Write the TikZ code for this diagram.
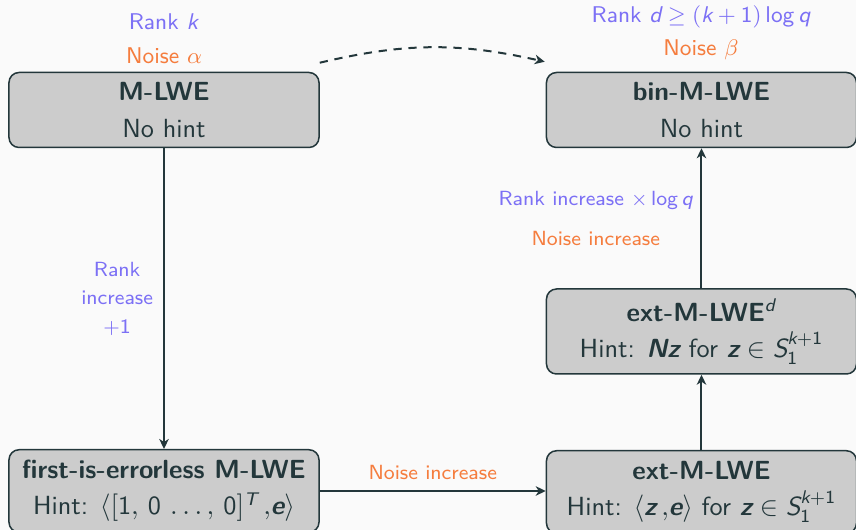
\documentclass[tikz,border=0pt]{standalone}
\usepackage{amsmath}
\usetikzlibrary{arrows.meta,calc}
\renewcommand{\familydefault}{\sfdefault}
\definecolor{bgc}{HTML}{FAFAFA}
\definecolor{dteal}{HTML}{23373B}
\definecolor{rankc}{RGB}{124,112,245}
\definecolor{noisec}{RGB}{245,125,62}
\definecolor{boxc}{HTML}{CCCCCC}
\newcommand{\sv}[1]{\textsf{\itshape #1}}
\newcommand{\sbv}[1]{\textsf{\bfseries\itshape #1}}
\newcommand{\sn}[1]{\textsf{#1}}
\tikzset{
  probbox/.style={draw=dteal, fill=boxc, line width=0.6pt, rounded corners=4pt,
    minimum width=124pt, align=center, text=dteal, inner sep=0pt,
    font=\fontsize{10.5}{14.5}\selectfont},
  lbl/.style={font=\fontsize{8.2}{11.4}\selectfont, inner sep=0pt, align=center},
  toplbl/.style={font=\fontsize{9.1}{11}\selectfont, inner sep=0pt, align=center},
  conn/.style={draw=dteal, line width=0.8pt, -{Stealth[length=4pt,width=3.8pt,inset=1.2pt]}},
}
\begin{document}
\begin{tikzpicture}[x=0.4pt,y=-0.4pt]
\fill[bgc] (0,0) rectangle (856,530);
\useasboundingbox (0,0) rectangle (856,530);
\node[probbox, minimum height=30pt] (mlwe) at (164,110) {\textbf{M-LWE}\\No hint};
\node[probbox, minimum height=30pt] (bin) at (701.5,110) {\textbf{bin-M-LWE}\\No hint};
\node[probbox, minimum height=34pt] (extd) at (701.5,331.5) {\textbf{ext-M-LWE}$^{\sv{d}}$\\Hint: $\sbv{Nz}$ for $\sbv{z}\in \sv{S}_{\sn{1}}^{\sv{k}+\sn{1}}$};
\node[probbox, minimum height=33pt] (ext) at (701.5,492) {\textbf{ext-M-LWE}\\Hint: $\langle\sbv{z}\,,\!\sbv{e}\rangle$ for $\sbv{z}\in \sv{S}_{\sn{1}}^{\sv{k}+\sn{1}}$};
\node[probbox, minimum height=33pt] (first) at (164,491) {\textbf{first-is-errorless M-LWE}\\Hint: $\langle[\sn{1},\,\sn{0}\,\ldots,\,\sn{0}]^{\sv{T}}\,,\!\sbv{e}\rangle$};
% top labels
\node[toplbl, text=rankc] (rk) at (164,22) {Rank \sv{k}};
\node[toplbl, text=noisec] (na) at (164,56) {Noise $\alpha$};
\node[toplbl, text=rankc] (rd) at (701,17) {Rank $\sv{d}\geq(\sv{k}+\sn{1})\,\sn{log}\,\sv{q}$};
\node[toplbl, text=noisec] (nb) at (701,50) {Noise $\beta$};
% connectors
\coordinate (ds) at ($(mlwe.north east)+(0,-9)$);
\coordinate (de) at ($(bin.north west)+(-1,-10)$);
\draw[conn, dash pattern=on 3.3pt off 2.7pt] (ds) to[bend left=13] (de);
\draw[conn] (mlwe.south) -- node[lbl, text=rankc, left=4pt] (l1) {Rank\\increase\\$+\sn{1}$} (first.north);
\draw[conn] (first.east) -- node[lbl, text=noisec, above=4pt] (l2) {Noise increase} (ext.west |- first.east);
\draw[conn] (ext.north) -- (extd.south);
\draw[conn] (extd.north) -- node[lbl, left=3pt, font=\fontsize{8.2}{16}\selectfont] (l3) {\textcolor{rankc}{Rank increase $\times$\,\sn{log}\,\sv{q}}\\\textcolor{noisec}{Noise increase}} (bin.south);
\end{tikzpicture}
\end{document}
